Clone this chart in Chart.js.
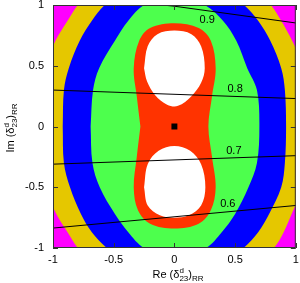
<!DOCTYPE html>
<html>
<head>
<meta charset="utf-8">
<script src="https://cdn.jsdelivr.net/npm/chart.js@4"></script>
<style>
html, body { margin: 0; padding: 0; background: #fff; }
#wrap { width: 300px; height: 283px; }
</style>
</head>
<body>
<div id="wrap"><canvas id="plot" width="300" height="283"></canvas></div>
<script>
// region boundaries, [x, y] in data units
const yellowEdge = [[-1.14,0],[-1.12,0.3],[-1.04,0.55],[-0.98,0.705],[-0.88,0.87],[-0.795,1.0],[-0.6,1.22],[-0.3,1.35],[0,1.38],[0.3,1.35],[0.6,1.22],[0.795,1.0],[0.88,0.87],[0.97,0.705],[1.04,0.55],[1.12,0.3],[1.14,0],[1.12,-0.3],[1.04,-0.55],[0.97,-0.71],[0.9,-0.87],[0.82,-1.0],[0.6,-1.22],[0.3,-1.35],[0,-1.38],[-0.3,-1.35],[-0.6,-1.22],[-0.795,-1.0],[-0.88,-0.87],[-0.98,-0.705],[-1.04,-0.55],[-1.12,-0.3],[-1.14,0]];
const blueEdge = [[-0.92,0],[-0.91,0.3],[-0.87,0.48],[-0.78,0.705],[-0.68,0.87],[-0.574,1.0],[-0.35,1.17],[0,1.24],[0.35,1.17],[0.574,1.0],[0.69,0.87],[0.79,0.705],[0.88,0.48],[0.91,0.3],[0.92,0],[0.91,-0.3],[0.88,-0.5],[0.78,-0.72],[0.69,-0.87],[0.57,-1.0],[0.35,-1.17],[0,-1.24],[-0.35,-1.17],[-0.557,-1.0],[-0.68,-0.87],[-0.77,-0.72],[-0.86,-0.5],[-0.91,-0.3],[-0.92,0]];
const greenEdge = [[-0.69,0],[-0.67,0.3],[-0.62,0.48],[-0.49,0.705],[-0.38,0.87],[-0.25,1.0],[0,1.1],[0.25,1.0],[0.4,0.87],[0.51,0.705],[0.6,0.48],[0.68,0.3],[0.70,0],[0.68,-0.3],[0.61,-0.5],[0.5,-0.72],[0.39,-0.87],[0.26,-1.0],[0,-1.1],[-0.25,-1.0],[-0.38,-0.87],[-0.49,-0.72],[-0.615,-0.5],[-0.675,-0.3],[-0.69,0]];
const redEdge = [[-0.28,0],[-0.31,0.25],[-0.335,0.48],[-0.29,0.705],[-0.2,0.81],[0,0.85],[0.2,0.81],[0.3,0.705],[0.34,0.48],[0.31,0.25],[0.28,0],[0.31,-0.25],[0.34,-0.5],[0.3,-0.69],[0.2,-0.8],[0,-0.84],[-0.2,-0.8],[-0.3,-0.69],[-0.335,-0.5],[-0.31,-0.25],[-0.28,0]];
const whiteTop = [[-0.25,0.48],[-0.22,0.66],[-0.14,0.76],[0,0.79],[0.14,0.76],[0.22,0.66],[0.25,0.48],[0.22,0.36],[0.14,0.25],[0.03,0.17],[-0.06,0.18],[-0.16,0.26],[-0.225,0.37],[-0.25,0.48]];
const whiteBottom = [[-0.25,-0.5],[-0.22,-0.31],[-0.13,-0.2],[0,-0.16],[0.13,-0.2],[0.22,-0.31],[0.255,-0.5],[0.22,-0.65],[0.12,-0.73],[0,-0.75],[-0.12,-0.73],[-0.22,-0.65],[-0.25,-0.5]];

// contour lines
const line09 = [[-1,1.09],[0,0.99],[1,0.852]];
const line08 = [[-1,0.30],[1,0.23]];
const line07 = [[-1,-0.31],[1,-0.24]];
const line06 = [[-1,-0.836],[1,-0.65]];
const contourLabels = ["0.9", "0.8", "0.7", "0.6"];
const labelX = [0.27, 0.5, 0.49, 0.44];
const labelY = [0.88, 0.31, -0.2, -0.64];

const bestFit = [[0, 0]];
const tickValues = [-1, -0.5, 0, 0.5, 1];

const FONT = '"Liberation Sans", Arial, sans-serif';

function pts(arr) {
    return arr.map((p) => ({ x: p[0], y: p[1] }));
}

function region(arr, color, order) {
    return {
        data: pts(arr),
        showLine: true,
        fill: "shape",
        backgroundColor: color,
        borderWidth: 0,
        pointRadius: 0,
        tension: 0.35,
        capBezierPoints: false,
        clip: 0,
        order: order,
    };
}

function contour(arr, order) {
    return {
        data: pts(arr),
        showLine: true,
        fill: false,
        borderColor: "#000",
        borderWidth: 1,
        pointRadius: 0,
        tension: 0,
        clip: 0,
        order: order,
    };
}

function drawDelta(ctx, prefix, cx, cy) {
    const big = "11px " + FONT, small = "8px " + FONT;
    ctx.font = big;
    const w1 = ctx.measureText(prefix + "(\u03b4").width;
    ctx.font = small;
    const w2 = Math.max(ctx.measureText("d").width, ctx.measureText("23").width);
    ctx.font = big;
    const w3 = ctx.measureText(")").width;
    ctx.font = small;
    const w4 = ctx.measureText("RR").width;
    let x = cx - (w1 + w2 + w3 + w4) / 2;
    ctx.textAlign = "left";
    ctx.textBaseline = "alphabetic";
    ctx.font = big;
    ctx.fillText(prefix + "(\u03b4", x, cy);
    x += w1;
    ctx.font = small;
    ctx.fillText("d", x, cy - 5);
    ctx.fillText("23", x, cy + 3);
    x += w2;
    ctx.font = big;
    ctx.fillText(")", x, cy);
    x += w3;
    ctx.font = small;
    ctx.fillText("RR", x, cy + 3);
}

// keep the plot box where the reference has it
function noPad(scale) {
    scale.paddingTop = 0;
    scale.paddingBottom = 0;
    scale.paddingLeft = 0;
    scale.paddingRight = 0;
}

const decor = {
    id: "decor",
    beforeDatasetsDraw(chart) {
        const { ctx, chartArea: a } = chart;
        ctx.save();
        ctx.fillStyle = "#ff00ff";
        ctx.fillRect(a.left, a.top, a.right - a.left, a.bottom - a.top);
        ctx.restore();
    },
    afterDatasetsDraw(chart) {
        const { ctx, chartArea: a, scales } = chart;
        ctx.save();
        // contour labels
        ctx.fillStyle = "#000";
        ctx.font = "11px " + FONT;
        ctx.textAlign = "center";
        ctx.textBaseline = "middle";
        contourLabels.forEach((t, i) => {
            ctx.fillText(t, scales.x.getPixelForValue(labelX[i]), scales.y.getPixelForValue(labelY[i]));
        });
        // frame and inward ticks
        ctx.strokeStyle = "#333";
        ctx.lineWidth = 1;
        ctx.strokeRect(a.left + 0.5, a.top + 0.5, a.right - a.left - 1, a.bottom - a.top - 1);
        ctx.beginPath();
        tickValues.forEach((v) => {
            const px = Math.round(scales.x.getPixelForValue(v)) + 0.5;
            const py = Math.round(scales.y.getPixelForValue(v)) + 0.5;
            ctx.moveTo(px, a.bottom); ctx.lineTo(px, a.bottom - 5);
            ctx.moveTo(px, a.top); ctx.lineTo(px, a.top + 5);
            ctx.moveTo(a.left, py); ctx.lineTo(a.left + 5, py);
            ctx.moveTo(a.right, py); ctx.lineTo(a.right - 5, py);
        });
        ctx.stroke();
        ctx.restore();
    },
    afterDraw(chart) {
        const ctx = chart.ctx;
        ctx.save();
        ctx.fillStyle = "#000";
        drawDelta(ctx, "Re ", 178, 278);
        ctx.translate(14, 128);
        ctx.rotate(-Math.PI / 2);
        drawDelta(ctx, "Im ", 0, 0);
        ctx.restore();
    },
};

const ctxPlot = document.getElementById("plot").getContext("2d");

const myChart = new Chart(ctxPlot, {
    type: "scatter",
    data: {
        datasets: [
            {
                data: pts(bestFit),
                pointStyle: "rect",
                pointRadius: 4.2,
                backgroundColor: "#000",
                borderWidth: 0,
                order: 0,
            },
            contour(line09, 1),
            contour(line08, 1),
            contour(line07, 1),
            contour(line06, 1),
            region(whiteTop, "#ffffff", 2),
            region(whiteBottom, "#ffffff", 2),
            region(redEdge, "#ff3300", 3),
            region(greenEdge, "#4dff4d", 4),
            region(blueEdge, "#0000ff", 5),
            region(yellowEdge, "#e5c700", 6),
        ],
    },
    options: {
        responsive: false,
        animation: false,
        events: [],
        layout: { padding: { top: 5, right: 3, left: 0, bottom: 0 } },
        plugins: {
            legend: { display: false },
            tooltip: { enabled: false },
        },
        scales: {
            x: {
                type: "linear",
                min: -1,
                max: 1,
                afterFit(scale) { scale.height = 35; noPad(scale); },
                grid: { display: false, drawTicks: false },
                border: { display: false },
                ticks: {
                    stepSize: 0.5,
                    padding: 5,
                    color: "#000",
                    font: { family: FONT, size: 11 },
                    callback: (v) => String(+v),
                },
            },
            y: {
                type: "linear",
                min: -1,
                max: 1,
                afterFit(scale) { scale.width = 53; noPad(scale); },
                grid: { display: false, drawTicks: false },
                border: { display: false },
                ticks: {
                    stepSize: 0.5,
                    padding: 9,
                    color: "#000",
                    font: { family: FONT, size: 11 },
                    callback: (v) => String(+v),
                },
            },
        },
    },
    plugins: [decor],
});
</script>
</body>
</html>
